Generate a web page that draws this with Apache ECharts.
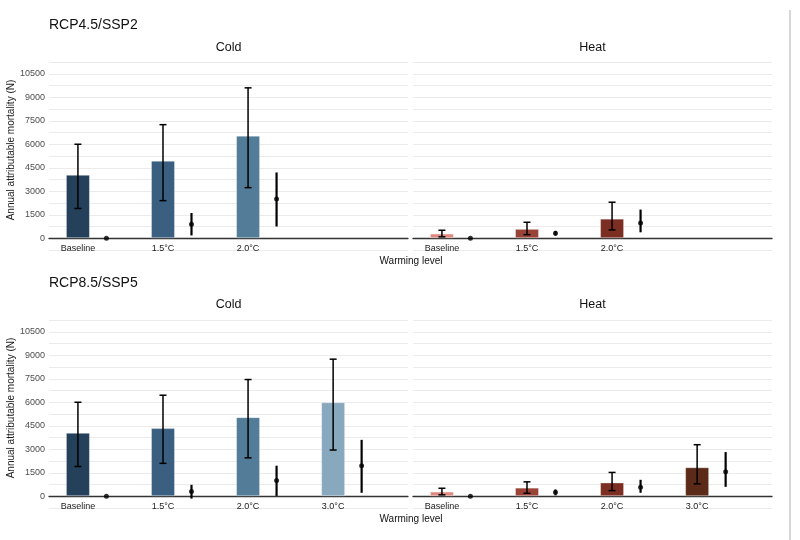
<!DOCTYPE html>
<html>
<head>
<meta charset="utf-8">
<script src="https://cdn.jsdelivr.net/npm/echarts@6/dist/echarts.min.js"></script>
<style>
  html, body { margin: 0; padding: 0; background: #fff; }
  #chart { width: 800px; height: 540px; }
</style>
</head>
<body>
<div id="chart"></div>
<script>
// categories and tick labels
var categories = ['Baseline', '1.5°C', '2.0°C', '3.0°C'];
var yTicks = [0, 1500, 3000, 4500, 6000, 7500, 9000, 10500];

// RCP4.5/SSP2 - cold
var r45ColdBar = [4050, 4950, 6550];
var r45ColdLo = [1900, 2400, 3230];
var r45ColdHi = [6000, 7250, 9600];
var r45ColdDiff = [0, 900, 2500];
var r45ColdDiffLo = [null, 180, 750];
var r45ColdDiffHi = [null, 1610, 4200];

// RCP4.5/SSP2 - heat
var r45HeatBar = [300, 600, 1250];
var r45HeatLo = [90, 230, 530];
var r45HeatHi = [510, 1020, 2300];
var r45HeatDiff = [0, 320, 980];
var r45HeatDiffLo = [null, 170, 380];
var r45HeatDiffHi = [null, 470, 1830];

// RCP8.5/SSP5 - cold
var r85ColdBar = [4050, 4350, 5050, 6000];
var r85ColdLo = [1900, 2100, 2450, 2950];
var r85ColdHi = [6000, 6450, 7450, 8750];
var r85ColdDiff = [0, 300, 1000, 1950];
var r85ColdDiffLo = [null, -150, 20, 220];
var r85ColdDiffHi = [null, 730, 1950, 3600];

// RCP8.5/SSP5 - heat
var r85HeatBar = [300, 550, 880, 1850];
var r85HeatLo = [90, 190, 360, 790];
var r85HeatHi = [510, 920, 1520, 3290];
var r85HeatDiff = [0, 250, 580, 1560];
var r85HeatDiffLo = [null, 60, 220, 600];
var r85HeatDiffHi = [null, 430, 1050, 2820];

var coldColors = ['#24405a', '#3a5f80', '#527c97', '#88a9bd'];
var heatColors = ['#df8a80', '#9a4438', '#7d2e22', '#5b2a18'];

var FONT = '"Liberation Sans", Arial, sans-serif';
var DIFF_OFFSET = 0.335;   // dodge of the change point right of its bar

var myChart = echarts.init(document.getElementById('chart'));

var panels = [
  { bar: r45ColdBar, lo: r45ColdLo, hi: r45ColdHi, d: r45ColdDiff, dlo: r45ColdDiffLo, dhi: r45ColdDiffHi, colors: coldColors, left: 49, top: 62, yLabels: true },
  { bar: r45HeatBar, lo: r45HeatLo, hi: r45HeatHi, d: r45HeatDiff, dlo: r45HeatDiffLo, dhi: r45HeatDiffHi, colors: heatColors, left: 413, top: 62, yLabels: false },
  { bar: r85ColdBar, lo: r85ColdLo, hi: r85ColdHi, d: r85ColdDiff, dlo: r85ColdDiffLo, dhi: r85ColdDiffHi, colors: coldColors, left: 49, top: 320, yLabels: true },
  { bar: r85HeatBar, lo: r85HeatLo, hi: r85HeatHi, d: r85HeatDiff, dlo: r85HeatDiffLo, dhi: r85HeatDiffHi, colors: heatColors, left: 413, top: 320, yLabels: false }
];

function errorBar(capHalf, width) {
  return function (params, api) {
    var x = api.value(0);
    var top = api.coord([x, api.value(2)]);
    var bot = api.coord([x, api.value(1)]);
    var st = { stroke: '#000', lineWidth: width };
    var children = [{ type: 'line', shape: { x1: top[0], y1: top[1], x2: bot[0], y2: bot[1] }, style: st }];
    if (capHalf > 0) {
      children.push({ type: 'line', shape: { x1: top[0] - capHalf, y1: top[1], x2: top[0] + capHalf, y2: top[1] }, style: st });
      children.push({ type: 'line', shape: { x1: bot[0] - capHalf, y1: bot[1], x2: bot[0] + capHalf, y2: bot[1] }, style: st });
    }
    return { type: 'group', children: children };
  };
}

var grids = [], xAxes = [], yAxes = [], series = [];

panels.forEach(function (p, gi) {
  var n = p.bar.length;
  var idx = [];
  for (var i = 0; i < n; i++) idx.push(i + 1);

  grids.push({ left: p.left, top: p.top, width: 359, height: 188, containLabel: false });

  xAxes.push({
    type: 'value', gridIndex: gi, min: 0.66, max: 4.88,
    axisLine: { onZero: true, lineStyle: { color: '#333', width: 1.3 } },
    axisTick: { show: false },
    splitLine: { show: false },
    axisLabel: {
      customValues: idx,
      formatter: function (v) { return categories[Math.round(v) - 1]; },
      fontSize: 9, color: '#1a1a1a', margin: -6, fontFamily: FONT
    }
  });

  yAxes.push({
    type: 'value', gridIndex: gi, min: -750, max: 11250, interval: 750,
    axisLine: { show: false }, axisTick: { show: false },
    axisLabel: {
      show: p.yLabels,
      formatter: function (v) { return yTicks.indexOf(v) >= 0 ? String(v) : ''; },
      fontSize: 9, color: '#4d4d4d', margin: 4, fontFamily: FONT
    },
    splitLine: { lineStyle: { color: '#ebebeb', width: 1 } },
    name: p.yLabels ? 'Annual attributable mortality (N)' : '',
    nameLocation: 'middle', nameGap: 26,
    nameTextStyle: { fontSize: 10, color: '#1a1a1a', fontFamily: FONT, padding: [0, 0, 0, 12] }
  });

  series.push({
    type: 'bar', xAxisIndex: gi, yAxisIndex: gi, barWidth: 24,
    data: p.bar.map(function (v, i) {
      return { value: [i + 1, v], itemStyle: { color: p.colors[i], borderColor: 'rgba(255,255,255,0.35)', borderWidth: 1 } };
    })
  });

  series.push({
    type: 'custom', xAxisIndex: gi, yAxisIndex: gi, z: 3,
    renderItem: errorBar(3.5, 1.5),
    data: p.bar.map(function (v, i) { return [i + 1, p.lo[i], p.hi[i]]; })
  });

  var dErr = [];
  p.d.forEach(function (v, i) {
    if (p.dlo[i] !== null) dErr.push([i + 1 + DIFF_OFFSET, p.dlo[i], p.dhi[i]]);
  });
  series.push({
    type: 'custom', xAxisIndex: gi, yAxisIndex: gi, z: 3,
    renderItem: errorBar(0, 2.2),
    data: dErr
  });

  series.push({
    type: 'scatter', xAxisIndex: gi, yAxisIndex: gi, z: 4,
    symbolSize: 5, itemStyle: { color: '#000' },
    data: p.d.map(function (v, i) { return [i + 1 + DIFF_OFFSET, v]; })
  });
});

function txt(s, x, y, size, align) {
  return {
    type: 'text', x: x, y: y, silent: true,
    style: { text: s, fill: '#111', font: 'normal ' + size + 'px ' + FONT, align: align || 'center', verticalAlign: 'middle' }
  };
}

var option = {
  animation: false,
  backgroundColor: '#fff',
  grid: grids,
  xAxis: xAxes,
  yAxis: yAxes,
  series: series,
  graphic: [
    txt('RCP4.5/SSP2', 49, 25, 14, 'left'),
    txt('Cold', 228.5, 48, 12.5),
    txt('Heat', 592.5, 48, 12.5),
    txt('Warming level', 411, 261, 10),
    txt('RCP8.5/SSP5', 49, 283, 14, 'left'),
    txt('Cold', 228.5, 305, 12.5),
    txt('Heat', 592.5, 305, 12.5),
    txt('Warming level', 411, 519, 10),
    { type: 'line', silent: true, shape: { x1: 790, y1: 10, x2: 790, y2: 540 }, style: { stroke: '#d6d6d6', lineWidth: 2 } }
  ]
};

myChart.setOption(option);
</script>
</body>
</html>
